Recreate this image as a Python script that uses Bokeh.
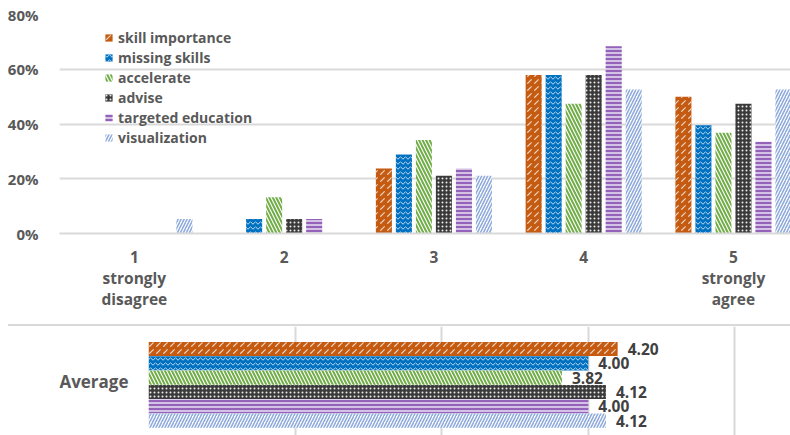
from bokeh.plotting import figure
from bokeh.models import (ColumnDataSource, Range1d, FixedTicker, NumeralTickFormatter,
                          FactorRange, Div)
from bokeh.layouts import column
from bokeh.transform import dodge
from bokeh.embed import file_html
from bokeh.resources import INLINE

# ---------------- data ----------------
ratings = [1, 2, 3, 4, 5]
rating_labels = ["1\nstrongly\ndisagree", "2", "3", "4", "5\nstrongly\nagree"]
series = ["skill importance", "missing skills", "accelerate", "advise",
          "targeted education", "visualization"]
skill_importance = [0.0, 0.0, 0.237, 0.579, 0.500]
missing_skills = [0.0, 0.053, 0.289, 0.579, 0.395]
accelerate = [0.0, 0.132, 0.342, 0.474, 0.368]
advise = [0.0, 0.053, 0.211, 0.579, 0.474]
targeted_education = [0.0, 0.053, 0.237, 0.684, 0.335]
visualization = [0.053, 0.0, 0.211, 0.526, 0.526]
y_ticks = [0, 0.2, 0.4, 0.6, 0.8]
avg_category = ["Average"]
averages = [4.20, 4.00, 3.82, 4.12, 4.00, 4.12]
avg_ticks = [1, 2, 3, 4, 5]

values = [skill_importance, missing_skills, accelerate, advise,
          targeted_education, visualization]

# ---------------- styles ----------------
styles = [
    dict(fill_color="#C55A11", hatch_pattern=",", hatch_color="white", hatch_alpha=0.75,
         hatch_weight=1.2, hatch_scale=7),
    dict(fill_color="#0070C0", hatch_pattern="v", hatch_color="white", hatch_alpha=0.75,
         hatch_weight=1.0, hatch_scale=5),
    dict(fill_color="white", hatch_pattern="\\", hatch_color="#70AD47", hatch_alpha=1.0,
         hatch_weight=2.0, hatch_scale=7),
    dict(fill_color="#3A3A3A", hatch_pattern=".", hatch_color="white", hatch_alpha=0.9,
         hatch_weight=2.0, hatch_scale=4),
    dict(fill_color="#D4C2E6", hatch_pattern="-", hatch_color="#7030A0", hatch_alpha=1.0,
         hatch_weight=1.3, hatch_scale=4),
    dict(fill_color="white", hatch_pattern="/", hatch_color="#8FAADC", hatch_alpha=1.0,
         hatch_weight=1.6, hatch_scale=6),
]

FONT = "Open Sans"
LABEL_COLOR = "#595959"
GRID_COLOR = "#D9D9D9"

# ---------------- top chart ----------------
p1 = figure(width=790, height=324, output_backend="svg", toolbar_location=None,
            x_range=Range1d(0.5, 5.381), y_range=Range1d(0, 0.8),
            min_border_left=59, min_border_right=0, min_border_top=14,
            min_border_bottom=91)
p1.outline_line_color = None

step = 0.1336
bw = 0.107
for i, (name, vals, st) in enumerate(zip(series, values, styles)):
    src = ColumnDataSource(dict(x=ratings, top=vals))
    p1.vbar(x=dodge("x", (i - 2.5) * step), top="top", width=bw, source=src,
            line_color=None, legend_label=name, **st)

p1.xaxis.ticker = FixedTicker(ticks=ratings)
p1.xaxis.major_label_overrides = {r: l for r, l in zip(ratings, rating_labels)}
p1.yaxis.ticker = FixedTicker(ticks=y_ticks)
p1.yaxis.formatter = NumeralTickFormatter(format="0%")
for ax in (p1.xaxis[0], p1.yaxis[0]):
    ax.major_tick_line_color = None
    ax.minor_tick_line_color = None
    ax.major_label_text_font = FONT
    ax.major_label_text_font_style = "bold"
    ax.major_label_text_font_size = "15.5px"
    ax.major_label_text_color = LABEL_COLOR
p1.yaxis.major_label_text_font_size = "15px"
p1.yaxis.axis_line_color = None
p1.yaxis.major_label_standoff = 15
p1.xaxis.axis_line_color = GRID_COLOR
p1.xaxis.axis_line_width = 2
p1.xaxis.major_label_standoff = 6
p1.xaxis.major_label_text_line_height = 0.97
p1.xgrid.grid_line_color = None
p1.ygrid.ticker = FixedTicker(ticks=y_ticks)
p1.ygrid.grid_line_color = GRID_COLOR
p1.ygrid.grid_line_width = 2

lg = p1.legend[0]
lg.location = (45, 86)
lg.border_line_color = None
lg.background_fill_alpha = 0
lg.padding = 0
lg.margin = 0
lg.glyph_width = 9
lg.glyph_height = 9
lg.label_height = 14
lg.spacing = 1
lg.label_standoff = 5
lg.label_text_font = FONT
lg.label_text_font_style = "bold"
lg.label_text_font_size = "14px"
lg.label_text_color = LABEL_COLOR

# ---------------- separator ----------------
sep = Div(text="", width=782, height=2, margin=(0, 0, 0, 8),
          styles={"background-color": GRID_COLOR})

# ---------------- bottom chart (averages) ----------------
p2 = figure(width=790, height=109, output_backend="svg", toolbar_location=None,
            x_range=Range1d(1, 5.379), y_range=FactorRange(*avg_category),
            min_border_left=148, min_border_right=0, min_border_top=0,
            min_border_bottom=0)
p2.outline_line_color = None
p2.y_range.range_padding = 0

hstep = 0.1315
hh = 0.13
for i, (name, avg, st) in enumerate(zip(series, averages, styles)):
    src = ColumnDataSource(dict(y=avg_category, right=[avg], lab=["%.2f" % avg]))
    yy = dodge("y", (2.5 - i) * hstep - 0.035, range=p2.y_range)
    p2.hbar(y=yy, right="right", left=1, height=hh, source=src, line_color=None, **st)
    p2.text(x="right", y=yy, text="lab", source=src, x_offset=10,
            text_baseline="middle", text_align="left",
            text_font={"value": FONT}, text_font_style="bold",
            text_font_size="15.5px", text_color="#404040")

p2.xaxis.visible = False
p2.xgrid.ticker = FixedTicker(ticks=avg_ticks)
p2.xgrid.grid_line_color = GRID_COLOR
p2.xgrid.grid_line_width = 2
p2.ygrid.grid_line_color = None
yax = p2.yaxis[0]
yax.axis_line_color = None
yax.major_tick_line_color = None
yax.minor_tick_line_color = None
yax.major_label_text_font = FONT
yax.major_label_text_font_style = "bold"
yax.major_label_text_font_size = "17px"
yax.major_label_text_color = LABEL_COLOR
yax.major_label_standoff = 14

layout = column(column(p1), sep, column(p2), spacing=0)
open("out.html", "w").write(file_html(layout, INLINE))
